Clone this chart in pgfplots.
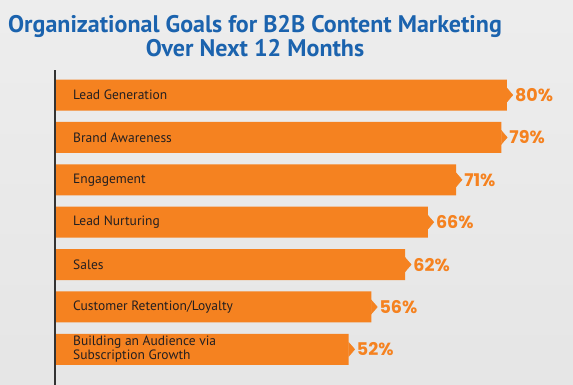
\documentclass[border=0pt]{standalone}
\usepackage{pgfplots}
\pgfplotsset{compat=1.18}
\usepackage{fontspec}
\setmainfont{PT Sans}
\newfontfamily\pop{Poppins}
\definecolor{barorange}{HTML}{F58220}
\definecolor{titleblue}{HTML}{1B63AE}
\definecolor{labeltext}{HTML}{231F20}
\begin{document}
\begin{tikzpicture}
\fill[top color=white!93!black, bottom color=white!90!black] (0,0) rectangle (573pt,385pt);
\node[anchor=base, align=center, text=titleblue, font=\fontsize{24}{24}\selectfont\bfseries] at (255pt,328pt)
  {Organizational Goals for B2B Content Marketing\\Over Next 12 Months};
\begin{axis}[
  at={(55pt,0pt)}, anchor=south west,
  scale only axis, width=518pt, height=315pt,
  xmin=0, xmax=91.7, ymin=-0.59, ymax=6.84, y dir=reverse,
  axis x line=none, axis y line*=left,
  y axis line style={line width=2pt, color=black!80, -},
  major tick length=0pt,
  axis on top,
  ytick={0,1,2,3,4,5,6},
  yticklabels={Lead Generation, Brand Awareness, Engagement, Lead Nurturing, Sales, Customer Retention/Loyalty, {Building an Audience via\\Subscription Growth}},
  yticklabel style={anchor=west, xshift=18pt, inner sep=0pt, align=left, text=labeltext, font=\fontsize{13.5}{14}\selectfont},
  /pgf/number format/assume math mode=true,
  clip=false,
]
\addplot[xbar, bar width=31pt, fill=barorange, draw=none,
  nodes near coords={\pgfmathprintnumber{\pgfplotspointmeta}\%},
  every node near coord/.append style={anchor=west, xshift=8pt, inner sep=0pt, text=barorange, font=\pop\bfseries\fontsize{17.5}{17.5}\selectfont},
  point meta=x]
  table {
x y
80 0
79 1
71 2
66 3
62 4
56 5
52 6
};
\addplot[color=barorange, only marks, mark=triangle*, mark size=8pt, mark options={xshift=2pt, xscale=0.5, rotate=-90, fill=barorange, draw=barorange}]
  table {
x y
80 0
79 1
71 2
66 3
62 4
56 5
52 6
};
\end{axis}
\pgfresetboundingbox
\useasboundingbox (0,0) rectangle (573pt,385pt);
\end{tikzpicture}
\end{document}
